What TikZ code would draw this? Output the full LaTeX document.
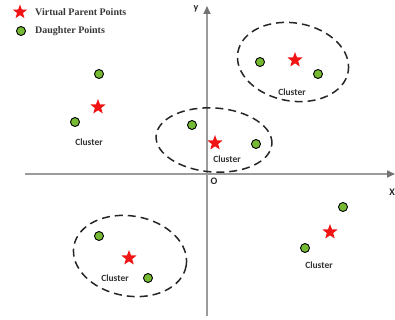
\documentclass[tikz,border=0pt]{standalone}
\usepackage{fontspec}
\setmainfont{Liberation Serif}
\newfontfamily\labelfont{Carlito}
\usetikzlibrary{shapes.geometric,arrows.meta}

\definecolor{axisgray}{RGB}{155,155,155}
\definecolor{tipgray}{RGB}{115,115,115}
\definecolor{daughtergreen}{RGB}{118,186,52}
\definecolor{parentred}{RGB}{240,20,20}
\definecolor{legendtext}{RGB}{55,55,55}

\tikzset{
  parent/.style={star, star points=5, star point ratio=2.4, minimum size=16pt,
    inner sep=0pt, fill=parentred, draw=none},
  daughter/.style={circle, minimum size=9pt, inner sep=0pt,
    fill=daughtergreen, draw=black, line width=0.9pt},
  axisline/.style={draw=axisgray, line width=1.6pt,
    -{Triangle[length=8pt,width=7pt,color=tipgray]}},
  clusterring/.style={draw=black!85, line width=1.5pt, dash pattern=on 8pt off 5pt},
  clustertag/.style={font=\labelfont\bfseries\fontsize{9.5}{11}\selectfont, text=black!80, inner sep=0pt},
  legendtag/.style={font=\bfseries\fontsize{10}{12}\selectfont, text=legendtext,
    anchor=west, inner sep=0pt},
  axistag/.style={font=\labelfont\bfseries\fontsize{10}{12}\selectfont, text=black!85, inner sep=0pt}
}

\begin{document}
\begin{tikzpicture}[x=1pt, y=-1pt]
\useasboundingbox (0,0) rectangle (395,320);

% axes
\coordinate (ybot) at (207,316);
\coordinate (ytop) at (207,6);
\coordinate (xleft) at (25,174);
\coordinate (xright) at (395,174);
\draw[axisline] (ybot) -- (ytop);
\draw[axisline] (xleft) -- (xright);
\node[axistag] (ylab) at (196,9) {y};
\node[axistag] (xlab) at (392,192) {X};
\node[axistag] (olab) at (214,181) {O};

% legend
\node[parent, minimum size=15pt] (legstar) at (20,12) {};
\node[legendtag] (legstartext) at (35,12) {Virtual Parent Points};
\node[daughter] (legdot) at (21,31) {};
\node[legendtag] (legdottext) at (35,31) {Daughter Points};

% cluster, upper left
\node[daughter] (a1) at (99,74) {};
\node[parent] (ap) at (98,107) {};
\node[daughter] (a2) at (75,122) {};
\node[clustertag] (atag) at (89,142) {Cluster};

% cluster around the origin
\coordinate (bc) at (214,140);
\draw[clusterring] (bc) ellipse [x radius=58pt, y radius=32pt, rotate=-4];
\node[daughter] (b1) at (192,125) {};
\node[parent] (bp) at (215,143) {};
\node[daughter] (b2) at (256,144) {};
\node[clustertag] (btag) at (227,159) {Cluster};

% cluster, upper right
\coordinate (cc) at (293,62);
\draw[clusterring] (cc) ellipse [x radius=56pt, y radius=39pt, rotate=-10];
\node[daughter] (c1) at (260,62) {};
\node[parent] (cp) at (295,60) {};
\node[daughter] (c2) at (318,74) {};
\node[clustertag] (ctag) at (292,92) {Cluster};

% cluster, lower left
\coordinate (dc) at (130,256);
\draw[clusterring] (dc) ellipse [x radius=57pt, y radius=40pt, rotate=-10];
\node[daughter] (d1) at (99,236) {};
\node[parent] (dp) at (129,258) {};
\node[daughter] (d2) at (148,278) {};
\node[clustertag] (dtag) at (115,278) {Cluster};

% cluster, lower right
\node[daughter] (e1) at (343,207) {};
\node[parent] (ep) at (330,232) {};
\node[daughter] (e2) at (305,248) {};
\node[clustertag] (etag) at (319,265) {Cluster};
\end{tikzpicture}
\end{document}
